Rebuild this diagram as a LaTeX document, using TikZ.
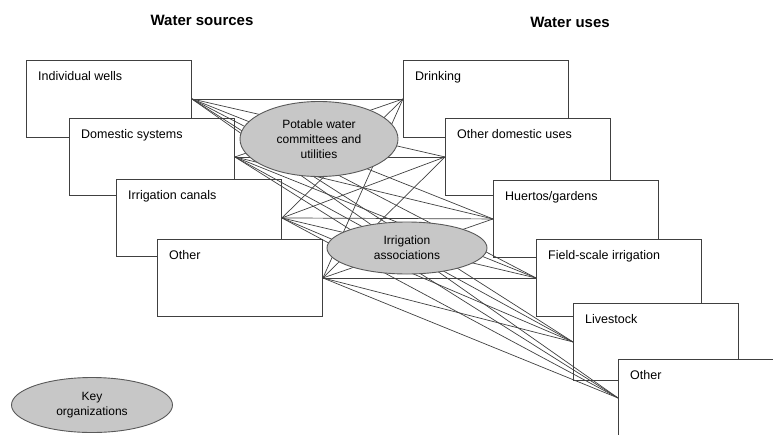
\documentclass[tikz,border=0pt]{standalone}
\usepackage{fontspec}
\setmainfont{Liberation Sans}
\usetikzlibrary{shapes.geometric}

\begin{document}
\begin{tikzpicture}[
		x=1pt, y=-1pt,
		areabox/.style={rectangle, draw=black!75, line width=0.9pt, fill=white, anchor=north west, minimum width=165pt, minimum height=77pt},
		boxtext/.style={anchor=north west, inner sep=0pt, xshift=12pt, yshift=-11pt, font=\fontsize{12.5}{15}\selectfont},
		org/.style={ellipse, draw=black!65, line width=0.9pt, fill=black!22, inner sep=0pt, align=center, font=\fontsize{12}{15}\selectfont},
		link/.style={draw=black!75, line width=0.7pt},
		heading/.style={font=\bfseries\fontsize{15}{18}\selectfont}
	]
		\useasboundingbox (0,0) rectangle (773,434);
		\node[heading](src-head) at (202,20){Water sources};
		\node[heading](use-head) at (570,22){Water uses};

		\node[areabox, label={[boxtext]north west:Individual wells}](ws-1) at (26,60){};
		\node[areabox, label={[boxtext]north west:Domestic systems}](ws-2) at (69,118){};
		\node[areabox, label={[boxtext]north west:Irrigation canals}](ws-3) at (116,179){};
		\node[areabox, label={[boxtext]north west:Other}](ws-4) at (157,239){};

		\node[areabox, label={[boxtext]north west:Drinking}](wu-1) at (403,60){};
		\node[areabox, label={[boxtext]north west:Other domestic uses}](wu-2) at (445,118){};
		\node[areabox, label={[boxtext]north west:Huertos/gardens}](wu-3) at (493,180){};
		\node[areabox, label={[boxtext]north west:Field-scale irrigation}](wu-4) at (536,239){};
		\node[areabox, label={[boxtext]north west:Livestock}](wu-5) at (573,303){};
		\node[areabox, label={[boxtext]north west:Other}](wu-6) at (618,359){};

		\foreach \s in {1,...,4}
			\foreach \u in {1,...,6}
				\draw[link](ws-\s.east) -- (wu-\u.west);

		\node[org, minimum width=158pt, minimum height=75pt](potable) at (319,139){Potable water\\committees and\\utilities};
		\node[org, minimum width=160pt, minimum height=52pt](irrig) at (407,248){Irrigation\\associations};

		% key
		\node[org, minimum width=161pt, minimum height=55pt](key) at (92,405){Key\\organizations};
	\end{tikzpicture}
\end{document}
